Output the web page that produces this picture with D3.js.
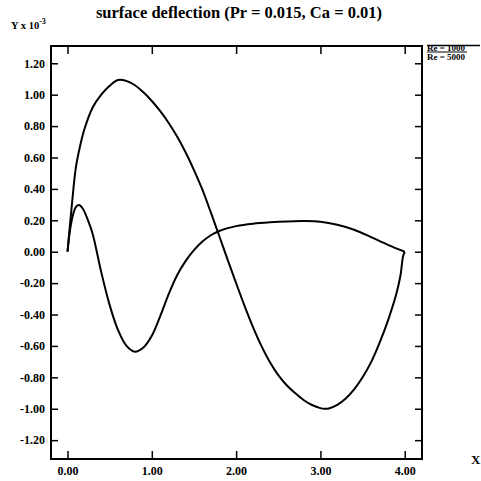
<!DOCTYPE html>
<html>
<head>
<meta charset="utf-8">
<script src="https://cdn.jsdelivr.net/npm/d3@7"></script>
<style>
  body { margin: 0; background: #fff; }
  #chart { width: 481px; height: 481px; }
  text { font-family: "Liberation Serif", "DejaVu Serif", serif; font-weight: bold; fill: #000; }
</style>
</head>
<body>
<div id="chart"></div>
<script>
// values
var xTicks = [0, 1, 2, 3, 4];
var yTicks = [-1.2, -1.0, -0.8, -0.6, -0.4, -0.2, 0, 0.2, 0.4, 0.6, 0.8, 1.0, 1.2];
var legendLabels = ["Re = 1000", "Re = 5000"];

var xA = [0, 0.05, 0.1, 0.15, 0.2, 0.3, 0.4, 0.5, 0.6, 0.7, 0.8, 0.9, 1.0, 1.1, 1.2, 1.3, 1.4, 1.5, 1.6, 1.7, 1.8, 1.9, 2.0, 2.1, 2.2, 2.3, 2.4, 2.5, 2.6, 2.7, 2.8, 2.9, 3.0, 3.05, 3.1, 3.2, 3.3, 3.4, 3.5, 3.6, 3.7, 3.8, 3.9, 3.95, 3.98, 4.0];
var yA = [0, 0.29, 0.54, 0.675, 0.78, 0.92, 1.0, 1.057, 1.093, 1.087, 1.06, 1.015, 0.96, 0.895, 0.82, 0.733, 0.633, 0.52, 0.395, 0.25, 0.1, -0.052, -0.2, -0.345, -0.48, -0.6, -0.703, -0.786, -0.85, -0.9, -0.944, -0.976, -0.996, -1.0, -0.998, -0.976, -0.935, -0.877, -0.8, -0.705, -0.582, -0.44, -0.27, -0.15, -0.03, 0];

var xB = [0, 0.03, 0.07, 0.1, 0.136, 0.18, 0.25, 0.3, 0.4, 0.5, 0.6, 0.7, 0.8, 0.9, 1.0, 1.1, 1.2, 1.3, 1.4, 1.5, 1.6, 1.7, 1.8, 1.9, 2.0, 2.2, 2.4, 2.6, 2.8, 3.0, 3.2, 3.4, 3.6, 3.8, 4.0];
var yB = [0, 0.14, 0.245, 0.285, 0.297, 0.275, 0.19, 0.11, -0.13, -0.34, -0.5, -0.6, -0.637, -0.61, -0.535, -0.41, -0.27, -0.15, -0.06, 0.01, 0.065, 0.105, 0.132, 0.15, 0.163, 0.178, 0.187, 0.193, 0.195, 0.191, 0.172, 0.14, 0.093, 0.044, 0];

var width = 481, height = 481;
var frame = {left: 51, right: 422, top: 46, bottom: 459};

var svg = d3.select("#chart")
    .append("svg")
    .attr("width", width)
    .attr("height", height);

var xScale = d3.scaleLinear()
    .domain([-0.196, 4.205])
    .range([frame.left, frame.right]);

var yScale = d3.scaleLinear()
    .domain([-1.32, 1.31])
    .range([frame.bottom, frame.top]);

var fmt = function(d) { return d.toFixed(2); };

// bottom axis, ticks pointing in
var xAxis = svg.append("g")
    .attr("transform", `translate(0,${frame.bottom})`)
    .call(d3.axisBottom(xScale).tickValues(xTicks).tickFormat(fmt).tickSizeInner(-8).tickSizeOuter(0).tickPadding(7));

var xTop = svg.append("g")
    .attr("transform", `translate(0,${frame.top})`)
    .call(d3.axisTop(xScale).tickValues(xTicks).tickFormat("").tickSizeInner(-8).tickSizeOuter(0));

var yAxis = svg.append("g")
    .attr("transform", `translate(${frame.left},0)`)
    .call(d3.axisLeft(yScale).tickValues(yTicks).tickFormat(fmt).tickSizeInner(-7).tickSizeOuter(0).tickPadding(6));

var yRight = svg.append("g")
    .attr("transform", `translate(${frame.right},0)`)
    .call(d3.axisRight(yScale).tickValues(yTicks).tickFormat("").tickSizeInner(-7).tickSizeOuter(0));

svg.selectAll(".domain").remove();
svg.selectAll(".tick line").attr("stroke", "#000").attr("stroke-width", 1.5);
svg.selectAll(".tick text")
    .style("font-family", "'Liberation Serif', serif")
    .style("font-weight", "bold")
    .style("font-size", "12px")
    .attr("fill", "#000");

svg.append("rect")
    .attr("x", frame.left)
    .attr("y", frame.top)
    .attr("width", frame.right - frame.left)
    .attr("height", frame.bottom - frame.top)
    .attr("fill", "none")
    .attr("stroke", "#000")
    .attr("stroke-width", 2);

var line = d3.line()
    .x(function(d) { return xScale(d[0]); })
    .y(function(d) { return yScale(d[1]); })
    .curve(d3.curveCatmullRom.alpha(0.5));

svg.append("path")
    .datum(d3.zip(xA, yA))
    .attr("d", line)
    .attr("fill", "none")
    .attr("stroke", "#000")
    .attr("stroke-width", 2);

svg.append("path")
    .datum(d3.zip(xB, yB))
    .attr("d", line)
    .attr("fill", "none")
    .attr("stroke", "#000")
    .attr("stroke-width", 2);

// title and axis labels
svg.append("text")
    .attr("x", 239)
    .attr("y", 18)
    .attr("text-anchor", "middle")
    .style("font-size", "16.5px")
    .text("surface deflection (Pr = 0.015, Ca = 0.01)");

var yLab = svg.append("text")
    .attr("x", 11)
    .attr("y", 29)
    .style("font-size", "10.5px");
yLab.append("tspan").text("Y x 10");
yLab.append("tspan").attr("dy", -5).style("font-size", "8px").text("-3");

svg.append("text")
    .attr("x", 471)
    .attr("y", 464)
    .style("font-size", "13px")
    .text("X");

// legend at the right edge
svg.append("line")
    .attr("x1", 427).attr("x2", 480)
    .attr("y1", 45.5).attr("y2", 45.5)
    .attr("stroke", "#000").attr("stroke-width", 1.5);

svg.append("line")
    .attr("x1", 427).attr("x2", 467)
    .attr("y1", 52).attr("y2", 52)
    .attr("stroke", "#000").attr("stroke-width", 1);

svg.selectAll(".legendText")
    .data(legendLabels)
    .enter()
    .append("text")
        .attr("class", "legendText")
        .attr("x", 427)
        .attr("y", function(d, i) { return 51 + i * 8.5; })
        .style("font-size", "9px")
        .text(function(d) { return d; });
</script>
</body>
</html>
